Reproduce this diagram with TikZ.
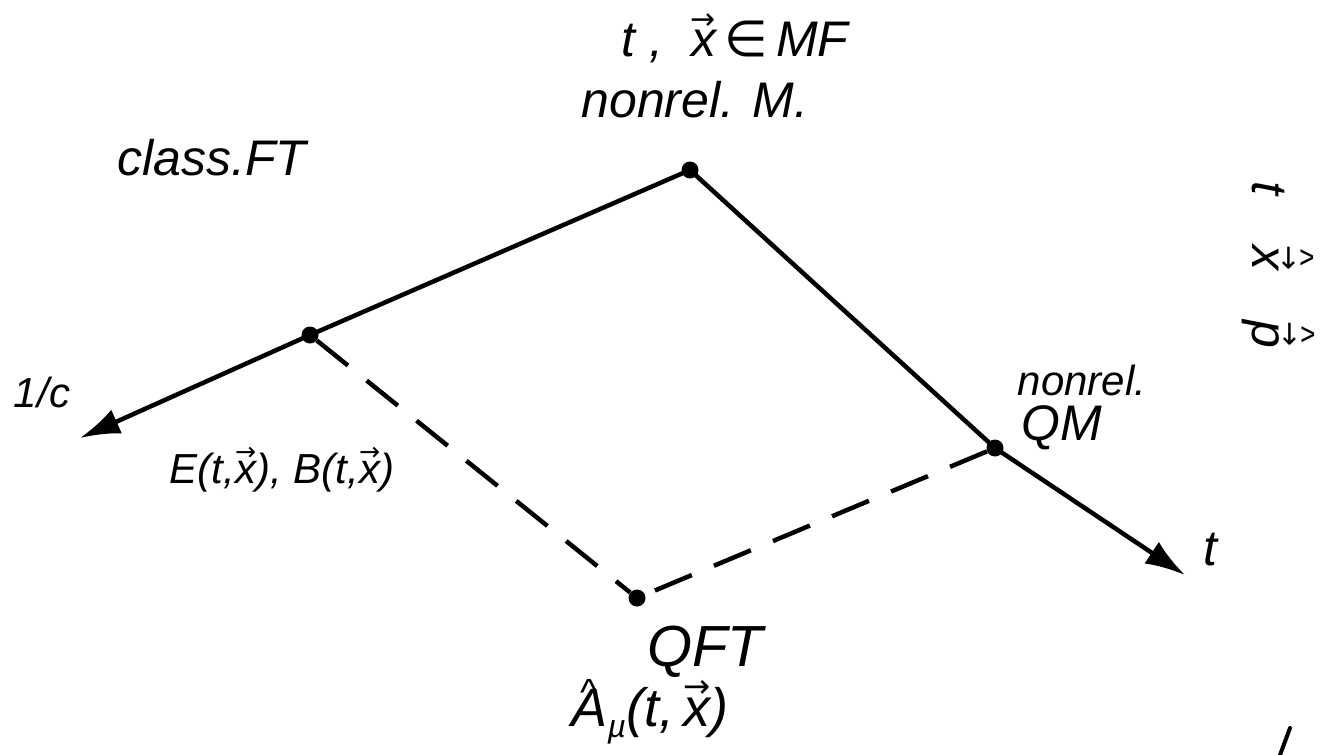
\documentclass[tikz,border=0pt]{standalone}
\usepackage{fontspec}
\setmainfont{Liberation Sans}
\newfontfamily\dv{DejaVu Sans}
\usetikzlibrary{arrows.meta}
\newcommand{\vx}[1]{\leavevmode\vbox{\offinterlineskip\halign{\hfil##\hfil\cr{\dv\upshape\fontsize{0.6em}{0.6em}\selectfont →}\cr\noalign{\kern0.02em}#1\cr}}}
\newcommand{\hx}[1]{\leavevmode\vbox{\offinterlineskip\halign{\hfil##\hfil\cr{\upshape\fontsize{0.7em}{0.7em}\selectfont\char"5E}\cr\noalign{\kern-0.3em}#1\cr}}}
\newcommand{\hvx}[1]{\leavevmode\vbox{\offinterlineskip\halign{\hfil##\hfil\cr{\upshape\fontsize{0.7em}{0.7em}\selectfont\char"5E}\cr\noalign{\kern-0.12em}{\dv\upshape\fontsize{0.6em}{0.6em}\selectfont →}\cr\noalign{\kern0.02em}#1\cr}}}
\begin{document}
\begin{tikzpicture}[x=1pt,y=-1pt,
  dot/.style={circle,fill=black,inner sep=0pt,minimum size=17pt},
  solidline/.style={line width=4.5pt,line cap=round},
  dashline/.style={line width=4.5pt,dash pattern=on 40pt off 24pt},
  arrowline/.style={solidline,-{Latex[length=40pt,width=26pt]}},
  lbl/.style={font=\fontsize{50}{56}\selectfont\itshape,inner sep=0pt},
  mlbl/.style={font=\fontsize{42}{48}\selectfont\itshape,inner sep=0pt},
  slbl/.style={font=\fontsize{42}{48}\selectfont\itshape,inner sep=0pt}]
\useasboundingbox (0,0) rectangle (1339,755);
\node[dot] (M) at (690,170) {};
\node[dot] (FT) at (310,335) {};
\node[dot] (QM) at (995,448) {};
\node[dot] (QFT) at (637,598) {};
\coordinate (L) at (80,438);
\coordinate (R) at (1185,575);
\draw[solidline] (M.center) -- (FT.center);
\draw[arrowline] (FT.center) -- (L);
\draw[solidline] (M.center) -- (QM.center);
\draw[arrowline] (QM.center) -- (R);
\draw[dashline] (FT) -- (QFT);
\draw[dashline] (QM) -- (QFT);
\node[lbl] (t1) at (735,38) {t ,\ \ \vx{x}\,{\dv\upshape ∈}\,MF};
\node[lbl] (t2) at (695,100) {nonrel. M.};
\node[lbl] (t3) at (212,158) {class.FT};
\node[slbl] (t4) at (42,392) {1/c};
\node[slbl] (t5) at (282,470) {E(t,\vx{x}), B(t,\vx{x})};
\node[mlbl] (t6) at (1082,380) {nonrel.};
\node[lbl] (t7) at (1062,428) {QM};
\node[lbl] (t8) at (1210,550) {t};
\node[font=\fontsize{58}{64}\selectfont\itshape,inner sep=0pt] (t9) at (705,652) {QFT};
\node[font=\fontsize{54}{60}\selectfont\itshape,inner sep=0pt] (t10) at (650,712) {\hx{A}\raisebox{-0.2em}{\fontsize{32}{32}\selectfont µ}(t,\,\vx{x})};
\node[lbl,rotate=-90] (t11) at (1278,265) {t\quad\hvx{x}\quad\hvx{p}};
\draw[line width=4pt,line cap=round] (1280,755) -- (1290,728);
\end{tikzpicture}
\end{document}
